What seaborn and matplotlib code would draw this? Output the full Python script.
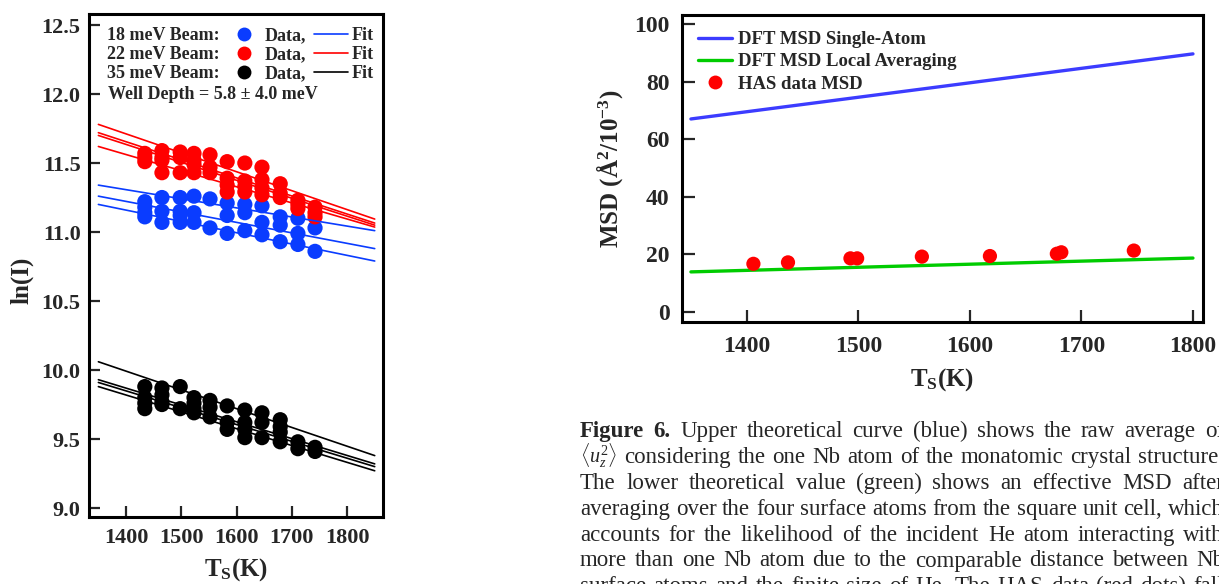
import numpy as np
import pandas as pd
import matplotlib
matplotlib.use("Agg")
import matplotlib.pyplot as plt
import seaborn as sns
from matplotlib.lines import Line2D

# ---------------- data: left panel (ln(I) vs T_S) ----------------
temps = [1434, 1465, 1498, 1523, 1552, 1583, 1615, 1646, 1679, 1711, 1742]

lnI_18 = [[11.22, 11.18, 11.14, 11.11], [11.25, 11.15, 11.07], [11.25, 11.15, 11.12, 11.07],
          [11.26, 11.14, 11.07], [11.24, 11.03], [11.21, 11.12, 10.99], [11.20, 11.14, 11.01],
          [11.19, 11.07, 10.98], [11.11, 11.05, 10.93], [11.10, 10.99, 10.91], [11.03, 10.86]]
lnI_22 = [[11.57, 11.54, 11.51], [11.59, 11.54, 11.52, 11.43], [11.58, 11.54, 11.43],
          [11.57, 11.52, 11.49, 11.43], [11.56, 11.47, 11.43], [11.51, 11.39, 11.34, 11.29],
          [11.50, 11.37, 11.33, 11.29], [11.47, 11.38, 11.32, 11.27], [11.35, 11.28, 11.25],
          [11.23, 11.20, 11.17], [11.18, 11.14, 11.11]]
lnI_35 = [[9.88, 9.80, 9.76, 9.72], [9.87, 9.82, 9.77, 9.75], [9.88, 9.72],
          [9.80, 9.76, 9.72, 9.69], [9.78, 9.73, 9.66], [9.74, 9.62, 9.57],
          [9.71, 9.62, 9.57, 9.51], [9.69, 9.62, 9.51], [9.64, 9.59, 9.55, 9.48],
          [9.48, 9.43], [9.44, 9.41]]

fit_T = [1350, 1850]
fit18_start = [11.34, 11.26, 11.20]
fit18_end = [11.01, 10.88, 10.79]
fit22_start = [11.78, 11.72, 11.70, 11.62]
fit22_end = [11.094, 11.065, 11.05, 11.036]
fit35_start = [10.06, 9.93, 9.91, 9.88]
fit35_end = [9.38, 9.32, 9.30, 9.27]

beams = ["18 meV", "22 meV", "35 meV"]
beam_colors = ["#0a3cff", "#ff0000", "#000000"]

# ---------------- data: right panel (MSD vs T_S) ----------------
msd_line_T = [1350, 1800]
dft_single = [67.0, 89.6]
dft_local = [13.9, 18.7]
has_T = [1406, 1437, 1493, 1499, 1557, 1618, 1678, 1682, 1747]
has_msd = [16.7, 17.2, 18.6, 18.6, 19.2, 19.4, 20.2, 20.7, 21.3]

# ---------------- style ----------------
sns.set_theme(style="ticks")
plt.rcParams.update({
    "font.family": ["Liberation Serif", "DejaVu Serif"],
    "font.weight": "bold",
    "axes.labelweight": "bold",
    "mathtext.fontset": "custom",
    "mathtext.rm": "Liberation Serif:weight=normal",
    "mathtext.bf": "Liberation Serif:weight=bold",
    "mathtext.it": "Liberation Serif:style=italic:weight=normal",
    "axes.linewidth": 2.2,
    "axes.edgecolor": "black",
})

W, H = 1219, 584
fig = plt.figure(figsize=(W / 100, H / 100), dpi=100)
fig.patch.set_facecolor("white")

def px_axes(x0, y0, x1, y1):
    return fig.add_axes([x0 / W, (H - y1) / H, (x1 - x0) / W, (y1 - y0) / H])

ax1 = px_axes(89, 14, 383, 517)
ax2 = px_axes(682, 15, 1203, 322)

# ---- left panel ----
rows = []
for beam, series in zip(beams, [lnI_18, lnI_22, lnI_35]):
    for T, vals in zip(temps, series):
        for v in vals:
            rows.append((beam, T, v))
df_pts = pd.DataFrame(rows, columns=["beam", "T", "lnI"])
pal = dict(zip(beams, beam_colors))
sns.scatterplot(data=df_pts, x="T", y="lnI", hue="beam", palette=pal, s=120,
                edgecolor="none", linewidth=0, legend=False, ax=ax1, zorder=2)

frows = []
for beam, st, en in zip(beams, [fit18_start, fit22_start, fit35_start],
                        [fit18_end, fit22_end, fit35_end]):
    for k, (a, b) in enumerate(zip(st, en)):
        frows.append((beam, f"{beam}-{k}", fit_T[0], a))
        frows.append((beam, f"{beam}-{k}", fit_T[1], b))
df_fit = pd.DataFrame(frows, columns=["beam", "fit", "T", "lnI"])
sns.lineplot(data=df_fit, x="T", y="lnI", hue="beam", units="fit", estimator=None,
             palette=pal, linewidth=1.2, legend=False, ax=ax1, zorder=3)

ax1.set_xlim(1333, 1865)
ax1.set_ylim(8.935, 12.58)
ax1.set_xticks([1400, 1500, 1600, 1700, 1800])
ax1.set_yticks([9.0, 9.5, 10.0, 10.5, 11.0, 11.5, 12.0, 12.5])
ax1.set_yticklabels(["9.0", "9.5", "10.0", "10.5", "11.0", "11.5", "12.0", "12.5"])
ax1.tick_params(direction="in", length=8, width=1.6, labelsize=16)
ax1.tick_params(axis="y", pad=6)
ax1.tick_params(axis="x", pad=8)
ax1.set_xlabel(r"T$_\mathbf{S}$(K)", fontsize=18)
ax1.set_ylabel("ln(I)", fontsize=18)
ax1.xaxis.set_label_coords(0.5, -0.078)
ax1.yaxis.set_label_coords(-0.19, 0.47)

dot_h = [Line2D([], [], ls="none", marker="o", markersize=10, color=c, markeredgewidth=0) for c in beam_colors]
line_h = [Line2D([], [], color=c, lw=1.2) for c in beam_colors]
blank_h = [Line2D([], [], ls="none") for _ in beam_colors]
labels = [f"{b} Beam:" for b in beams] + ["Data,"] * 3 + ["Fit"] * 3
leg1 = ax1.legend(dot_h + line_h + blank_h, labels, ncol=3, markerfirst=False,
                  loc="upper left", bbox_to_anchor=(0.062, 0.974), borderaxespad=0,
                  borderpad=0, frameon=False, handlelength=1.9, handletextpad=0.4,
                  columnspacing=0.2, labelspacing=0.12,
                  prop={"family": "Liberation Serif", "weight": "bold", "size": 13})
ax1.text(0.0646, 0.839, "Well Depth = 5.8 ± 4.0 meV", transform=ax1.transAxes,
         va="center", ha="left", fontsize=13, fontweight="bold")

# ---- right panel ----
df_dft = pd.DataFrame({
    "series": ["DFT MSD Single-Atom"] * 2 + ["DFT MSD Local Averaging"] * 2,
    "T": msd_line_T * 2,
    "MSD": dft_single + dft_local,
})
pal2 = {"DFT MSD Single-Atom": "#3c3cff", "DFT MSD Local Averaging": "#00cc00"}
sns.lineplot(data=df_dft, x="T", y="MSD", hue="series", palette=pal2, linewidth=2.4,
             legend=False, ax=ax2)
df_has = pd.DataFrame({"T": has_T, "MSD": has_msd})
sns.scatterplot(data=df_has, x="T", y="MSD", color="#ff0000", s=105, edgecolor="none",
                linewidth=0, ax=ax2, zorder=3)

ax2.set_xlim(1342, 1809)
ax2.set_ylim(-3.5, 103.1)
ax2.set_xticks([1400, 1500, 1600, 1700, 1800])
ax2.set_yticks([0, 20, 40, 60, 80, 100])
ax2.tick_params(direction="in", length=9, width=1.6, labelsize=17)
ax2.tick_params(axis="y", pad=9)
ax2.tick_params(axis="x", pad=10)
ax2.set_xlabel(r"T$_\mathbf{S}$(K)", fontsize=18)
ax2.set_ylabel(r"MSD (Å$^\mathbf{2}$/10$^\mathbf{-3}$)", fontsize=18)
ax2.xaxis.set_label_coords(0.5, -0.145)
ax2.yaxis.set_label_coords(-0.11, 0.5)

h2 = [Line2D([], [], color="#3c3cff", lw=2.4),
      Line2D([], [], color="#00cc00", lw=2.4),
      Line2D([], [], ls="none", marker="o", markersize=10, color="#ff0000", markeredgewidth=0)]
ax2.legend(h2, ["DFT MSD Single-Atom", "DFT MSD Local Averaging", "HAS data MSD"],
           loc="upper left", bbox_to_anchor=(0.031, 0.948), borderaxespad=0, borderpad=0,
           frameon=False, handlelength=1.8, handletextpad=0.35, labelspacing=0.28,
           prop={"family": "Liberation Serif", "weight": "bold", "size": 13.5})

# ---- caption (justified) ----
caption_lines = [
    [("Figure", "bold"), ("6.", "bold")] + [(w, "normal") for w in "Upper theoretical curve (blue) shows the raw average of".split()],
    [(r"$\langle u_{z}^{2}\rangle$", "normal")] + [(w, "normal") for w in "considering the one Nb atom of the monatomic crystal structure.".split()],
    [(w, "normal") for w in "The lower theoretical value (green) shows an effective MSD after".split()],
    [(w, "normal") for w in "averaging over the four surface atoms from the square unit cell, which".split()],
    [(w, "normal") for w in "accounts for the likelihood of the incident He atom interacting with".split()],
    [(w, "normal") for w in "more than one Nb atom due to the comparable distance between Nb".split()],
    [(w, "normal") for w in "surface atoms and the finite size of He. The HAS data (red dots) fall".split()],
]
fig.canvas.draw()
renderer = fig.canvas.get_renderer()
x_left, x_right = 580, 1224
for i, words in enumerate(caption_lines):
    base = 437 + 25.9 * i
    texts = []
    for w, weight in words:
        size = 14.5 if w.startswith("$") else 16.5
        t = fig.text(0, (H - base) / H, w, fontsize=size, fontweight=weight,
                     family="Liberation Serif", va="baseline", ha="left")
        texts.append(t)
    widths = [t.get_window_extent(renderer).width for t in texts]
    gap = (x_right - x_left - sum(widths)) / (len(texts) - 1)
    x = x_left
    for t, wd in zip(texts, widths):
        t.set_x(x / W)
        x += wd + gap

fig.savefig("out.png", dpi=100, facecolor="white")
